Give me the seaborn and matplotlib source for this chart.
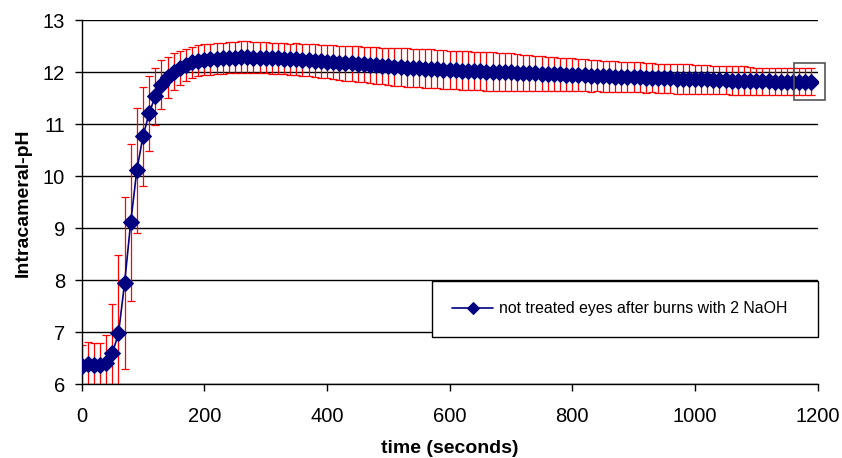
import seaborn as sns
import matplotlib.pyplot as plt
from matplotlib.patches import Rectangle
import pandas as pd

# time in seconds (one reading every 10 s)
time = [0, 10, 20, 30, 40, 50, 60, 70, 80, 90,
        100, 110, 120, 130, 140, 150, 160, 170, 180, 190,
        200, 210, 220, 230, 240, 250, 260, 270, 280, 290,
        300, 310, 320, 330, 340, 350, 360, 370, 380, 390,
        400, 410, 420, 430, 440, 450, 460, 470, 480, 490,
        500, 510, 520, 530, 540, 550, 560, 570, 580, 590,
        600, 610, 620, 630, 640, 650, 660, 670, 680, 690,
        700, 710, 720, 730, 740, 750, 760, 770, 780, 790,
        800, 810, 820, 830, 840, 850, 860, 870, 880, 890,
        900, 910, 920, 930, 940, 950, 960, 970, 980, 990,
        1000, 1010, 1020, 1030, 1040, 1050, 1060, 1070, 1080, 1090,
        1100, 1110, 1120, 1130, 1140, 1150, 1160, 1170, 1180, 1190]

# mean intracameral pH
ph = [6.36, 6.40, 6.37, 6.37, 6.42, 6.60, 6.98, 7.95, 9.12, 10.12,
      10.77, 11.21, 11.54, 11.76, 11.90, 12.01, 12.08, 12.14, 12.19, 12.22,
      12.24, 12.25, 12.26, 12.27, 12.28, 12.28, 12.29, 12.29, 12.28, 12.28,
      12.28, 12.27, 12.27, 12.26, 12.25, 12.25, 12.24, 12.23, 12.22, 12.21,
      12.20, 12.19, 12.18, 12.17, 12.17, 12.16, 12.15, 12.14, 12.13, 12.12,
      12.11, 12.10, 12.10, 12.09, 12.08, 12.08, 12.07, 12.07, 12.06, 12.05,
      12.04, 12.04, 12.03, 12.03, 12.02, 12.02, 12.01, 12.01, 12.00, 12.00,
      12.00, 11.99, 11.99, 11.98, 11.98, 11.97, 11.97, 11.96, 11.96, 11.95,
      11.95, 11.94, 11.94, 11.93, 11.93, 11.92, 11.92, 11.91, 11.91, 11.90,
      11.90, 11.90, 11.89, 11.89, 11.88, 11.88, 11.88, 11.87, 11.87, 11.87,
      11.86, 11.86, 11.86, 11.85, 11.85, 11.85, 11.84, 11.84, 11.84, 11.83,
      11.83, 11.83, 11.83, 11.82, 11.82, 11.82, 11.82, 11.82, 11.82, 11.82]

# standard deviation
sd = [0.40, 0.42, 0.43, 0.43, 0.53, 0.95, 1.50, 1.65, 1.51, 1.20,
      0.95, 0.72, 0.55, 0.47, 0.40, 0.36, 0.33, 0.31, 0.30, 0.30,
      0.30, 0.30, 0.30, 0.30, 0.30, 0.30, 0.30, 0.30, 0.30, 0.30,
      0.30, 0.30, 0.30, 0.30, 0.30, 0.31, 0.31, 0.31, 0.32, 0.32,
      0.32, 0.33, 0.33, 0.33, 0.34, 0.34, 0.34, 0.35, 0.35, 0.35,
      0.36, 0.36, 0.36, 0.37, 0.37, 0.37, 0.37, 0.37, 0.37, 0.37,
      0.37, 0.37, 0.37, 0.37, 0.37, 0.37, 0.37, 0.37, 0.37, 0.37,
      0.36, 0.36, 0.35, 0.35, 0.34, 0.34, 0.33, 0.33, 0.32, 0.32,
      0.32, 0.31, 0.31, 0.31, 0.30, 0.30, 0.30, 0.30, 0.29, 0.29,
      0.29, 0.29, 0.29, 0.28, 0.28, 0.28, 0.28, 0.28, 0.28, 0.28,
      0.27, 0.27, 0.27, 0.27, 0.27, 0.27, 0.27, 0.27, 0.27, 0.27,
      0.26, 0.26, 0.26, 0.26, 0.26, 0.26, 0.26, 0.26, 0.26, 0.26]

series_name = "not treated eyes after burns with 2 NaOH"
df = pd.DataFrame({"time": time, "ph": ph, "sd": sd})

sns.set_theme(style="white")
plt.rcParams["font.family"] = ["Liberation Sans", "DejaVu Sans"]
plt.rcParams["text.color"] = "black"
plt.rcParams["axes.labelcolor"] = "black"

fig = plt.figure(figsize=(8.42, 4.58), dpi=100)
ax = fig.add_axes([0.097, 0.1605, 0.874, 0.7955])

# red error bars behind the series
ax.errorbar(df["time"], df["ph"], yerr=df["sd"], fmt="none", ecolor="red",
            elinewidth=0.9, capsize=3, capthick=0.9, zorder=2)

sns.lineplot(data=df, x="time", y="ph", ax=ax, color="#000080", marker="D",
             markersize=8.5, markeredgecolor="#000080", linewidth=1.2,
             label=series_name, zorder=3)

ax.set_xlim(0, 1200)
ax.set_ylim(6, 13)
ax.set_xticks(range(0, 1201, 200))
ax.set_yticks(range(6, 14))
ax.grid(axis="y", color="black", linewidth=1)
ax.set_axisbelow(True)
for side in ["top", "right"]:
    ax.spines[side].set_visible(False)
for side in ["left", "bottom"]:
    ax.spines[side].set_color("black")
    ax.spines[side].set_linewidth(1)
ax.tick_params(axis="both", direction="out", length=5, width=1, color="black",
               labelcolor="black", labelsize=14.5, bottom=True, left=True)
ax.tick_params(axis="x", pad=11)
ax.tick_params(axis="y", pad=7)

ax.set_xlabel("time (seconds)", fontsize=14, fontweight="bold", labelpad=10)
ax.set_ylabel("Intracameral-pH", fontsize=14, fontweight="bold", labelpad=8)

# selection box around the last point
ax.add_patch(Rectangle((time[-1] - 28, ph[-1] - 0.35), 50, 0.70, fill=False,
                       edgecolor="#555555", linewidth=1.2, clip_on=False, zorder=4))

leg = ax.legend(loc="center", bbox_to_anchor=(0.5127, 0.2614, 0.459, 0.1286),
                bbox_transform=fig.transFigure, mode="expand", fontsize=11.4,
                frameon=True, fancybox=False, shadow=False, borderpad=1.3,
                borderaxespad=0, handlelength=2.6, handletextpad=0.32)
leg.get_frame().set_edgecolor("black")
leg.get_frame().set_linewidth(1)
leg.get_frame().set_alpha(1)
for t in leg.get_texts():
    t.set_color("black")
for h in leg.legend_handles:
    h.set_markersize(6)

fig.savefig("out.png", dpi=100)
